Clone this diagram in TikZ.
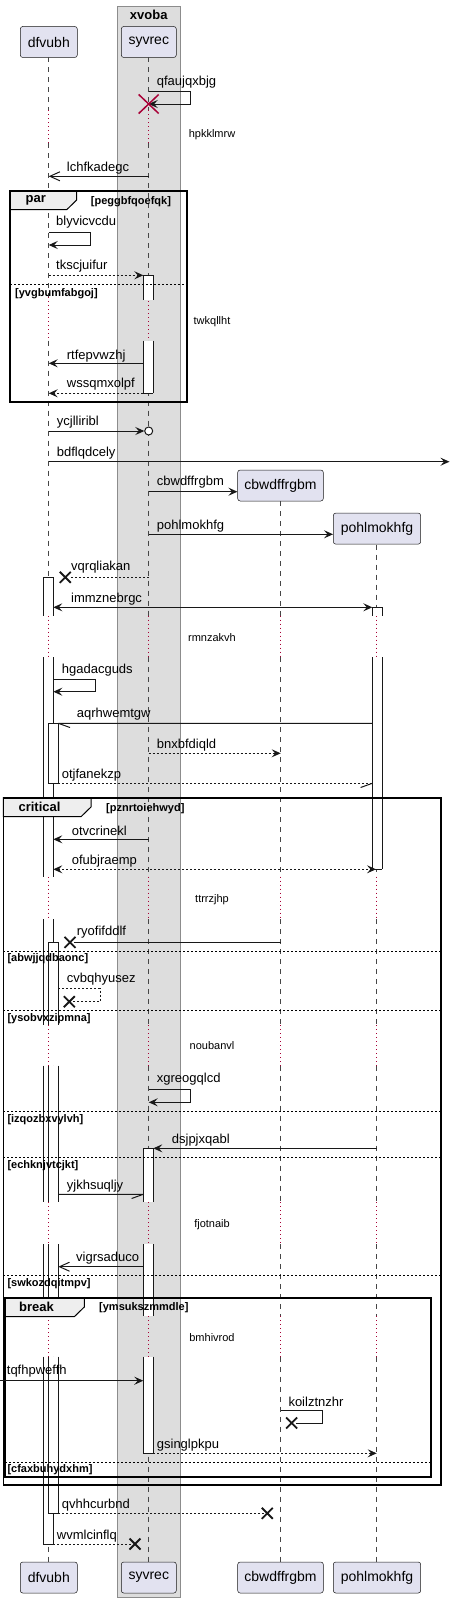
\documentclass[tikz,border=0pt]{standalone}
\usepackage{fontspec}
\setmainfont{Liberation Sans}
\usetikzlibrary{arrows.meta}
\definecolor{partfill}{HTML}{E2E2F0}
\definecolor{boxfill}{HTML}{DDDDDD}
\definecolor{tabfill}{HTML}{EEEEEE}
\definecolor{delayred}{HTML}{A80036}
\definecolor{linegray}{HTML}{181818}
% lifeline x positions
\def\xA{48.7}
\def\xB{148.7}
\def\xC{280.7}
\def\xD{376.7}
\tikzset{
  part/.style={draw=linegray, line width=0.5pt, fill=partfill, rounded corners=2.5pt,
    minimum height=31pt, inner sep=0pt, font=\fontsize{14}{16}\selectfont},
  grpbox/.style={draw=black!45, line width=0.7pt, fill=boxfill},
  life/.style={draw=linegray!80, line width=0.5pt, dash pattern=on 5pt off 5pt},
  delayline/.style={draw=delayred, line width=0.8pt, dash pattern=on 1pt off 3pt},
  actline/.style={draw=linegray, line width=0.8pt},
  frame/.style={draw=black, line width=1.6pt},
  tab/.style={draw=black, line width=1pt, fill=tabfill},
  sep/.style={draw=black, line width=0.9pt, dash pattern=on 2pt off 2pt},
  msg/.style={draw=linegray, line width=1pt, -{Stealth[length=9pt,width=8pt,inset=3.5pt]}},
  ret/.style={msg, dash pattern=on 2pt off 2pt},
  both/.style={draw=linegray, line width=1pt, {Stealth[length=9pt,width=8pt,inset=3.5pt]}-{Stealth[length=9pt,width=8pt,inset=3.5pt]}},
  async/.style={draw=linegray, line width=1pt, -{Straight Barb[length=10pt,width=9pt]}},
  plain/.style={draw=linegray, line width=1pt},
  dplain/.style={plain, dash pattern=on 2pt off 2pt},
  xline/.style={draw=linegray, line width=1.8pt},
  lbl/.style={anchor=west, inner sep=0pt, font=\fontsize{13}{15}\selectfont},
  dlbl/.style={inner sep=0pt, font=\fontsize{11}{13}\selectfont},
  guard/.style={anchor=west, inner sep=0pt, font=\bfseries\fontsize{11}{13}\selectfont},
  grptitle/.style={inner sep=0pt, font=\bfseries\fontsize{13}{15}\selectfont}
}
\def\actpart(#1:#2)(#3:#4){\fill[white] (#1,#3) rectangle (#2,#4); \draw[actline] (#1,#3) -- (#1,#4) (#2,#3) -- (#2,#4);}
\def\xcross(#1,#2){\draw[xline] (#1-5.5,#2-5.5) -- (#1+5.5,#2+5.5) (#1-5.5,#2+5.5) -- (#1+5.5,#2-5.5);}

\begin{document}
\begin{tikzpicture}[x=1pt,y=-1pt]
\useasboundingbox (0,0) rectangle (450,1603);
%%%%% BOX AND PARTICIPANTS %%%%%
\draw[grpbox] (117.3,6) rectangle (180.3,1597.7);
\node[grptitle] (xvoba) at (\xB,15) {xvoba};

\node[part, minimum width=57pt] (dfvubh) at (48.8,42) {dfvubh};
\node[part, minimum width=55pt] (syvrec) at (148.8,42) {syvrec};
\node[part, minimum width=85.6pt] (cbwdffrgbm) at (280.5,485.5) {cbwdffrgbm};
\node[part, minimum width=87.4pt] (pohlmokhfg) at (377,528.6) {pohlmokhfg};
\node[part, minimum width=57pt] (dfvubhEnd) at (48.8,1577.5) {dfvubh};
\node[part, minimum width=55pt] (syvrecEnd) at (148.8,1577.5) {syvrec};
\node[part, minimum width=85.6pt] (cbwdffrgbmEnd) at (280.5,1577.5) {cbwdffrgbm};
\node[part, minimum width=87.4pt] (pohlmokhfgEnd) at (377,1577.5) {pohlmokhfg};

%%%%% LIFELINES %%%%%
\foreach \x in {\xA,\xB}
  \foreach \ya/\yb in {57.3/110,143/297,340.5/615.7,657.3/876.7,919/1025,1065.7/1202.3,1244.3/1316,1356.7/1561.7}
    \draw[life] (\x,\ya) -- (\x,\yb);
\foreach \x in {\xA,\xB}
  \foreach \ya/\yb in {110/143,297/340.5}
    \draw[delayline] (\x,\ya) -- (\x,\yb);
\draw[life] (\xC,501.3) -- (\xC,615.7);
\draw[life] (\xD,544.5) -- (\xD,615.7);
\foreach \x in {\xC,\xD}
  \foreach \ya/\yb in {657.3/876.7,919/1025,1065.7/1202.3,1244.3/1316,1356.7/1561.7}
    \draw[life] (\x,\ya) -- (\x,\yb);
\foreach \x in {\xA,\xB,\xC,\xD}
  \foreach \ya/\yb in {615.7/657.3,876.7/919,1025/1065.7,1202.3/1244.3,1316/1356.7}
    \draw[delayline] (\x,\ya) -- (\x,\yb);

%%%%% ACTIVATIONS %%%%%
\actpart(143.3:153.3)(275.3:300)
\actpart(143.3:153.3)(340.7:393.3)
\draw[actline] (143.3,275.3) -- (153.3,275.3) (143.3,393.3) -- (153.3,393.3);

\foreach \ya/\yb in {577.3/615.7,657.3/876.7,919/1025,1065.7/1202.3,1244.3/1316,1356.7/1544}
  {\actpart(43.3:53.3)(\ya:\yb)}
\draw[actline] (43.3,577.3) -- (53.3,577.3) (43.3,1544) -- (53.3,1544);

\actpart(372.3:382.3)(607.3:615.7)
\actpart(372.3:382.3)(657.3:869.3)
\draw[actline] (372.3,607.3) -- (382.3,607.3) (372.3,869.3) -- (382.3,869.3);

\actpart(48.3:58.3)(723.3:783.3)
\draw[actline] (48.3,723.3) -- (58.3,723.3) (48.3,783.3) -- (58.3,783.3);
\foreach \ya/\yb in {942.3/1025,1065.7/1202.3,1244.3/1316,1356.7/1513.3}
  {\actpart(48.3:58.3)(\ya:\yb)}
\draw[actline] (48.3,942.3) -- (58.3,942.3) (48.3,1513.3) -- (58.3,1513.3);

\foreach \ya/\yb in {1148.3/1202.3,1244.3/1316,1356.7/1453.3}
  {\actpart(143.3:153.3)(\ya:\yb)}
\draw[actline] (143.3,1148.3) -- (153.3,1148.3) (143.3,1453.3) -- (153.3,1453.3);

%%%%% GROUPS %%%%%
% par
\draw[tab] (10,191) -- (76.7,191) -- (76.7,200) -- (66.7,209.7) -- (10,209.7) -- cycle;
\draw[frame] (10,191) rectangle (187,401.7);
\draw[sep] (10,284.3) -- (187,284.3);
\node[grptitle] (parT) at (35.7,200.3) {par};
\node[guard] (g01) at (90.7,201.7) {[peggbfqoefqk]};
\node[guard] (g02) at (15,293.3) {[yvgbumfabgoj]};
% critical
\draw[tab] (3.3,797.7) -- (91,797.7) -- (91,807) -- (81,816.7) -- (3.3,816.7) -- cycle;
\draw[frame] (3.3,797.7) rectangle (440.7,1485);
\node[grptitle] (critT) at (39.5,807.3) {critical};
\node[guard] (g03) at (106,808.3) {[pznrtoiehwyd]};
\foreach \y in {951,1010.7,1111.7,1157.3,1275.3}
  \draw[sep] (3.3,\y) -- (440.7,\y);
\node[guard] (g04) at (7.3,959) {[abwjjqdbaonc]};
\node[guard] (g05) at (7.3,1018.3) {[ysobvxzipmna]};
\node[guard] (g06) at (7.3,1119.3) {[izqozbxvylvh]};
\node[guard] (g07) at (7.3,1165.3) {[echknjvtcjkt]};
\node[guard] (g08) at (7.3,1284) {[swkozdqitmpv]};
% break
\draw[tab] (4.8,1297.7) -- (84.3,1297.7) -- (84.3,1307) -- (74.3,1316.7) -- (4.8,1316.7) -- cycle;
\draw[frame] (4.8,1297.7) rectangle (430.7,1476.7);
\node[grptitle] (brkT) at (36.5,1307) {break};
\node[guard] (g09) at (99,1307.3) {[ymsukszmmdle]};
\draw[sep] (4.8,1462.3) -- (430.7,1462.3);
\node[guard] (g10) at (7.3,1470) {[cfaxbuhydxhm]};

%%%%% DELAYS %%%%%
\node[dlbl] (d1) at (212,134.7) {hpkklmrw};
\node[dlbl] (d2) at (212,321.7) {twkqllht};
\node[dlbl] (d3) at (212,637.3) {rmnzakvh};
\node[dlbl] (d4) at (212,899.3) {ttrrzjhp};
\node[dlbl] (d5) at (212,1046) {noubanvl};
\node[dlbl] (d6) at (212,1224.3) {fjotnaib};
\node[dlbl] (d7) at (212,1337.3) {bmhivrod};

%%%%% MESSAGES %%%%%
\draw[msg] (\xB,91.3) -- (190.3,91.3) -- (190.3,104) -- (\xB,104);
\draw[draw=delayred, line width=1.5pt] (\xB-10,104-9.5) -- (\xB+10,104+9.5) (\xB-10,104+9.5) -- (\xB+10,104-9.5);
\node[lbl] (m01) at (156.7,81.7) {qfaujqxbjg};

\draw[async] (\xB,176.3) -- (\xA,176.3);
\node[lbl] (m02) at (66.7,167.7) {lchfkadegc};

\draw[msg] (\xA,232.3) -- (90.3,232.3) -- (90.3,245) -- (\xA,245);
\node[lbl] (m03) at (56,222.3) {blyvicvcdu};

\draw[ret] (\xA,275.3) -- (143.3,275.3);
\node[lbl] (m04) at (56,266) {tkscjuifur};

\draw[msg] (143.3,363.3) -- (\xA,363.3);
\node[lbl] (m05) at (66.7,355.7) {rtfepvwzhj};

\draw[ret] (143.3,393.3) -- (\xA,393.3);
\node[lbl] (m06) at (66.7,384.3) {wssqmxolpf};

\draw[msg] (\xA,431) -- (144.3,431);
\draw[linegray, line width=1pt, fill=white] (\xB,431) circle (4pt);
\node[lbl] (m07) at (56.7,422.3) {ycjlliribl};

\draw[msg] (\xA,461.7) -- (449.5,461.7);
\node[lbl] (m08) at (56.7,452.7) {bdflqdcely};

\draw[msg] (\xB,491.7) -- (cbwdffrgbm.west |- 0,491.7);
\node[lbl] (m09) at (156.7,482.3) {cbwdffrgbm};

\draw[msg] (\xB,534.3) -- (pohlmokhfg.west |- 0,534.3);
\node[lbl] (m10) at (156.7,525.7) {pohlmokhfg};

\draw[dplain] (\xB,577.3) -- (69,577.3);
\xcross(65.3,577.3)
\node[lbl] (m11) at (71,567.3) {vqrqliakan};

\draw[both] (53.3,607.3) -- (372.3,607.3);
\node[lbl] (m12) at (71,599) {immznebrgc};

\draw[msg] (53.3,679) -- (95.7,679) -- (95.7,691.7) -- (53.3,691.7);
\node[lbl] (m13) at (61.7,670) {hgadacguds};

\draw[plain] (372.3,723.3) -- (58.3,723.3) (58.3,723.3) -- (70,727.5);
\node[lbl] (m14) at (76.7,714.3) {aqrhwemtgw};

\draw[ret] (\xB,753.3) -- (\xC,753.3);
\node[lbl] (m15) at (156.7,745) {bnxbfdiqld};

\draw[dplain] (58.3,783.3) -- (372.3,783.3);
\draw[plain] (372.3,783.3) -- (360.6,787.5);
\node[lbl] (m16) at (61.7,775) {otjfanekzp};

\draw[msg] (\xB,839.3) -- (53.3,839.3);
\node[lbl] (m17) at (71.7,830.7) {otvcrinekl};

\draw[both, dash pattern=on 2pt off 2pt] (53.3,869.3) -- (376,869.3);
\node[lbl] (m18) at (71.7,860.7) {ofubjraemp};

\draw[plain] (\xC,942.3) -- (74,942.3);
\xcross(70,942.3)
\node[lbl] (m19) at (76.7,932.3) {ryofifddlf};

\draw[dplain] (58.3,988.3) -- (100,988.3) -- (100,1001.7) -- (73,1001.7);
\xcross(69.3,1001.7)
\node[lbl] (m20) at (66.7,979) {cvbqhyusez};

\draw[msg] (\xB,1089.3) -- (190.3,1089.3) -- (190.3,1102.3) -- (\xB,1102.3);
\node[lbl] (m21) at (156.7,1079.3) {xgreogqlcd};

\draw[msg] (\xD,1148.3) -- (153.3,1148.3);
\node[lbl] (m22) at (171.7,1140) {dsjpjxqabl};

\draw[plain] (58.3,1194.3) -- (143.3,1194.3) (143.3,1194.3) -- (131.6,1198.5);
\node[lbl] (m23) at (66.7,1186) {yjkhsuqljy};

\draw[async] (143.3,1266.7) -- (58.3,1266.7);
\node[lbl] (m24) at (76,1258.3) {vigrsaduco};

\draw[msg] (0,1380.7) -- (143.3,1380.7);
\node[lbl] (m25) at (6.7,1370.7) {tqfhpweffh};

\draw[plain] (\xC,1410.3) -- (322.7,1410.3) -- (322.7,1423) -- (295.5,1423);
\xcross(291.7,1423)
\node[lbl] (m26) at (288.3,1401.7) {koilztnzhr};

\draw[ret] (153.3,1453.3) -- (\xD,1453.3);
\node[lbl] (m27) at (156.7,1445) {gsinglpkpu};

\draw[dplain] (58.3,1513.3) -- (263.5,1513.3);
\xcross(267.3,1513.3)
\node[lbl] (m28) at (61.7,1505) {qvhhcurbnd};

\draw[dplain] (53.3,1544) -- (131,1544);
\xcross(135,1544)
\node[lbl] (m29) at (56.7,1535.7) {wvmlcinflq};
\end{tikzpicture}
\end{document}
